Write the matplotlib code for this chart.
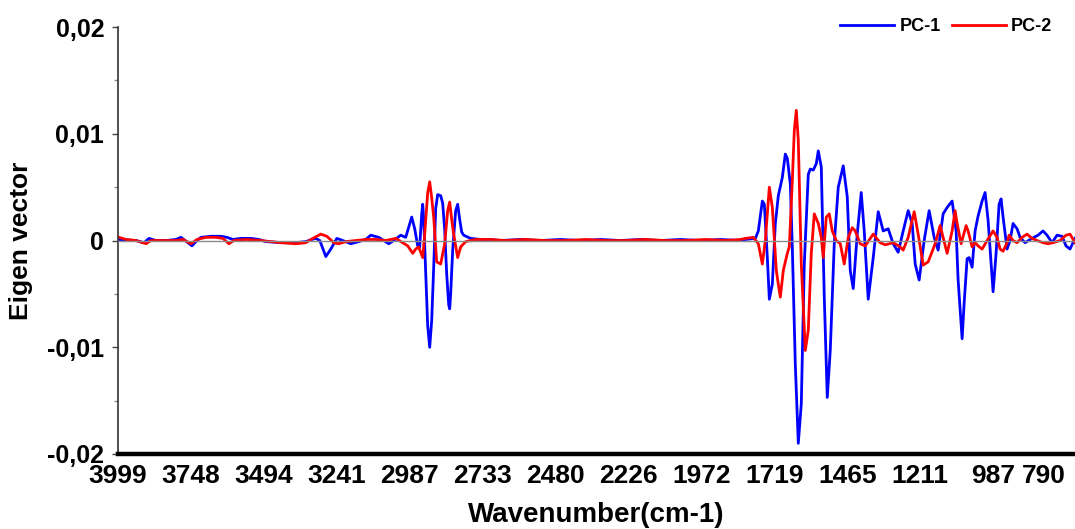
import numpy as np
import matplotlib
matplotlib.use("Agg")
import matplotlib.pyplot as plt

plt.rcParams['font.family'] = ['Liberation Sans', 'DejaVu Sans']
plt.rcParams['font.weight'] = 'bold'

# wavenumber labels shown every 73 variables along the spectrum
tick_labels = ['3999', '3748', '3494', '3241', '2987', '2733', '2480',
               '2226', '1972', '1719', '1465', '1211', '987', '790']
vars_per_tick = 73
n_vars = 958

# PC-1 loadings (variable index, value)
pc1_var = [1, 18, 26, 31, 38, 48, 58, 63, 70, 74, 79, 83, 93, 103, 109, 115, 123, 133, 141, 148,
           163, 178, 188, 194, 198, 202, 208, 213, 219, 225, 233, 241,
           248, 253, 261, 271, 276, 283, 288, 294, 297, 300, 302, 304, 305, 306, 308, 310, 312, 314,
           316, 318, 320, 323, 325, 327, 329, 331, 332, 333, 335, 338, 340, 342, 344, 346, 353, 363, 373,
           383, 403, 423, 443, 463, 483, 503, 523, 543, 563, 583, 603, 623,
           628, 638, 641, 645, 647, 650, 652, 655, 658, 661, 665, 668, 670, 673, 675, 678, 681, 684,
           687, 691, 693, 696, 699, 701, 704, 707, 710, 713, 717, 721, 726, 730, 733, 736,
           740, 744, 747, 751, 756, 761, 766, 771, 776, 781, 786, 791, 795, 798, 802, 807, 812, 817,
           821, 826, 830, 835, 839, 841, 845, 847,
           850, 852, 855, 858, 861, 865, 868, 871, 874, 876, 879, 882, 884, 886, 890, 893, 896, 900,
           903, 908, 915, 921, 926, 930, 935, 940, 945, 949, 953, 958]
pc1_val = [0.0001, 0.0000, -0.0002, 0.0002, 0.0000, 0.0000, 0.0001, 0.0003, -0.0002, -0.0005,
           0.0000, 0.0003, 0.0004, 0.0004, 0.0003, 0.0001, 0.0002, 0.0002, 0.0001, -0.0001,
           -0.0002, -0.0002, -0.0001, 0.0001, 0.0002, 0.0000, -0.0015, -0.0008, 0.0002, 0.0000,
           -0.0003, -0.0001,
           0.0001, 0.0005, 0.0003, -0.0003, 0.0000, 0.0005, 0.0003, 0.0022, 0.0011, -0.0005,
           -0.0006, 0.0025, 0.0034, 0.0020, -0.0030, -0.0080, -0.0100, -0.0075,
           -0.0025, 0.0030, 0.0043, 0.0042, 0.0035, 0.0010, -0.0031, -0.0060, -0.0064, -0.0050,
           -0.0009, 0.0028, 0.0034, 0.0020, 0.0008, 0.0005, 0.0002, 0.0001, 0.0001,
           0.0000, 0.0001, 0.0000, 0.0001, 0.0000, 0.0001, 0.0000, 0.0001, 0.0000, 0.0001,
           0.0000, 0.0001, 0.0000,
           0.0001, 0.0002, 0.0009, 0.0037, 0.0034, -0.0016, -0.0055, -0.0041, 0.0016, 0.0042,
           0.0059, 0.0081, 0.0077, 0.0053, -0.0006, -0.0116, -0.0190, -0.0153,
           -0.0022, 0.0062, 0.0067, 0.0066, 0.0072, 0.0084, 0.0069, -0.0053, -0.0147, -0.0103,
           -0.0003, 0.0050, 0.0070, 0.0041, -0.0028, -0.0045,
           0.0006, 0.0045, 0.0009, -0.0055, -0.0016, 0.0027, 0.0009, 0.0011, -0.0003, -0.0011,
           0.0009, 0.0028, 0.0016, -0.0022, -0.0037, 0.0000, 0.0028, 0.0003,
           -0.0009, 0.0025, 0.0031, 0.0037, 0.0009, -0.0037, -0.0092, -0.0059,
           -0.0017, -0.0016, -0.0025, 0.0009, 0.0023, 0.0037, 0.0045, 0.0019, -0.0022, -0.0048,
           -0.0012, 0.0034, 0.0039, 0.0022, -0.0008, 0.0000, 0.0016, 0.0011,
           0.0003, -0.0002, 0.0002, 0.0005, 0.0009, 0.0005, -0.0002, 0.0005, 0.0004, -0.0005,
           -0.0008, 0.0002]

# PC-2 loadings (variable index, value)
pc2_var = [1, 8, 18, 28, 33, 43, 58, 65, 73, 79, 88, 98, 105, 111, 116, 128, 143, 163, 178, 188,
           195, 203, 209, 216, 221, 228, 238,
           248, 258, 268, 278, 290, 295, 298, 301, 305, 307, 310, 312, 314, 316, 319, 323, 327,
           330, 332, 334, 336, 340, 343, 348, 358, 373,
           388, 408, 428, 448, 468, 488, 508, 528, 548, 568, 588, 608, 623,
           628, 636, 641, 645, 648, 652, 655, 659, 661, 663, 666, 670, 672, 675, 677, 679, 681,
           684, 688, 691, 694, 697, 701, 704, 706, 709, 712, 715, 719, 723, 727, 731, 735,
           738, 743, 748, 756, 763, 768, 776, 783, 786, 791, 797, 801, 806, 811, 818, 823, 826,
           830, 835, 838, 840, 844,
           849, 851, 855, 858, 861, 865, 870, 876, 880, 883, 886, 890, 892, 896, 900, 905, 910,
           915, 920, 926, 931, 936, 943, 949, 953, 958]
pc2_val = [0.0003, 0.0001, 0.0000, -0.0003, 0.0000, 0.0000, 0.0000, 0.0001, -0.0003, 0.0001,
           0.0003, 0.0003, 0.0002, -0.0003, 0.0000, 0.0001, 0.0000, -0.0002, -0.0003, -0.0002,
           0.0002, 0.0006, 0.0004, -0.0002, -0.0003, -0.0001, 0.0000,
           0.0001, 0.0001, 0.0000, 0.0002, -0.0005, -0.0012, -0.0008, -0.0006, -0.0016, 0.0006,
           0.0045, 0.0055, 0.0040, 0.0022, -0.0020, -0.0022, -0.0003,
           0.0028, 0.0036, 0.0020, 0.0006, -0.0016, -0.0006, -0.0001, 0.0001, 0.0001,
           0.0000, 0.0001, 0.0000, 0.0000, 0.0001, 0.0000, 0.0000, 0.0001, 0.0000, 0.0000,
           0.0001, 0.0000, 0.0001,
           0.0002, 0.0003, -0.0003, -0.0022, 0.0000, 0.0050, 0.0031, -0.0028, -0.0041, -0.0053,
           -0.0028, -0.0012, -0.0006, 0.0056, 0.0103, 0.0122, 0.0094,
           -0.0022, -0.0103, -0.0084, -0.0012, 0.0025, 0.0016, 0.0003, -0.0016, 0.0022, 0.0025,
           0.0009, 0.0000, -0.0003, -0.0022, 0.0003, 0.0012,
           0.0009, -0.0003, -0.0005, 0.0006, -0.0002, -0.0004, -0.0002, -0.0006, -0.0009, 0.0003,
           0.0027, 0.0006, -0.0023, -0.0020, -0.0003, 0.0014, 0.0003,
           -0.0012, 0.0009, 0.0028, 0.0016, -0.0003,
           0.0014, 0.0009, -0.0006, -0.0002, -0.0005, -0.0008, 0.0000, 0.0009, 0.0003, -0.0008,
           -0.0010, -0.0002, 0.0005, 0.0000, -0.0002, 0.0003, 0.0006,
           0.0002, 0.0000, -0.0002, -0.0003, -0.0002, 0.0000, 0.0005, 0.0006, -0.0002]

fig = plt.figure(figsize=(10.75, 5.29), dpi=100)
ax = fig.add_axes([0.1098, 0.1418, 0.8902, 0.807])

ax.plot(pc1_var, pc1_val, color='#0000ff', lw=2.0, label='PC-1', zorder=2,
        solid_joinstyle='round')
ax.plot(pc2_var, pc2_val, color='#ff0000', lw=2.0, label='PC-2', zorder=2.5,
        solid_joinstyle='round')
ax.axhline(0, color='#8c8c8c', lw=1.0, zorder=3)

ax.set_xlim(0, n_vars)
ax.set_ylim(-0.02, 0.02)

ticks = np.arange(len(tick_labels)) * vars_per_tick
ax.set_xticks(ticks)
ax.set_xticklabels(tick_labels, fontsize=19, fontweight='bold')
ax.get_xticklabels()[-1].set_horizontalalignment('right')
ax.tick_params(axis='x', length=0, pad=7.5)

ax.set_yticks([-0.02, -0.01, 0, 0.01, 0.02])
ax.set_yticklabels(['-0,02', '-0,01', '0', '0,01', '0,02'], fontsize=18, fontweight='bold')
ax.set_yticks([-0.015, -0.005, 0.005, 0.015], minor=True)
ax.tick_params(axis='y', which='major', length=4, width=1, color='#444444', pad=6)
ax.tick_params(axis='y', which='minor', length=3, width=1, color='#888888')

ax.spines['top'].set_visible(False)
ax.spines['right'].set_visible(False)
ax.spines['left'].set_color('#333333')
ax.spines['left'].set_linewidth(1.2)
ax.spines['bottom'].set_linewidth(3.2)
ax.spines['bottom'].set_color('black')

ax.set_xlabel('Wavenumber(cm-1)', fontsize=20, fontweight='bold', labelpad=10)
ax.set_ylabel('Eigen vector', fontsize=19, fontweight='bold', labelpad=10)

fig.legend(loc='center right', bbox_to_anchor=(0.979, 0.949), ncol=2, frameon=False,
           prop={'weight': 'bold', 'size': 13}, handlelength=3.0,
           handletextpad=0.3, columnspacing=0.6, borderpad=0, borderaxespad=0)

fig.savefig('out.png', dpi=100)
